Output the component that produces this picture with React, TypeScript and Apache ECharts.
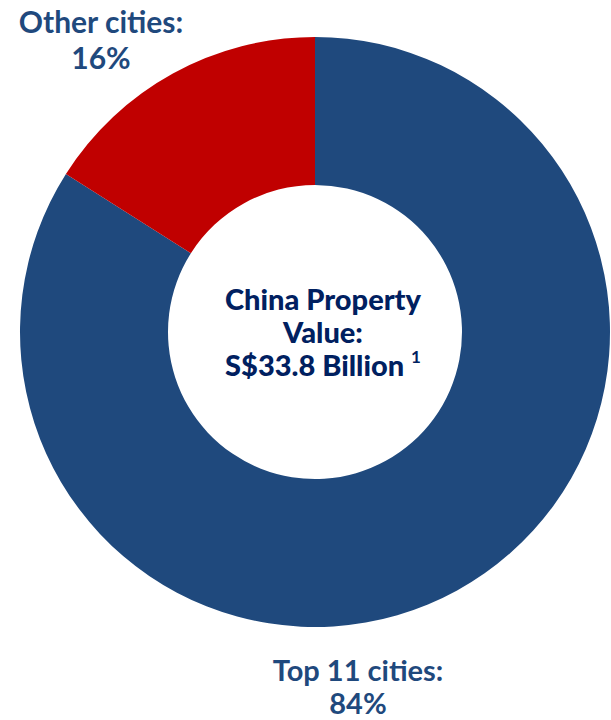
import React, { useEffect, useRef } from "react";
import * as echarts from "echarts";

const categories = ["Top 11 cities", "Other cities"];
const values = [84, 16];
const sliceColors = ["#1F497D", "#C00000"];
const centerLines = ["China Property", "Value:", "S$33.8 Billion"];
const footnote = "1";

export default function App() {
  const ref = useRef<HTMLDivElement>(null);
  useEffect(() => {
    const chart = echarts.init(ref.current!, null, { renderer: "svg" });
    const font = "Lato";
    chart.setOption({
      animation: false,
      backgroundColor: "#ffffff",
      graphic: [
        {
          type: "text",
          x: 323,
          y: 331,
          z: 10,
          style: {
            text: `{c|${centerLines[0]}}\n{c|${centerLines[1]}}\n{c|${centerLines[2]} }{s|${footnote}}`,
            align: "center",
            verticalAlign: "middle",
            rich: {
              c: { fontFamily: font, fontWeight: 900, fontSize: 29, fill: "#002060", color: "#002060", lineHeight: 33 },
              s: { fontFamily: font, fontWeight: "bold", fontSize: 17, fill: "#002060", color: "#002060", lineHeight: 33, verticalAlign: "top" },
            },
          },
        },
      ],
      series: [
        {
          type: "pie",
          center: [315, 332],
          radius: [147, 295],
          startAngle: 90,
          clockwise: true,
          silent: true,
          data: categories.map((name, i) => ({
            name,
            value: values[i],
            itemStyle: { color: sliceColors[i] },
            label: i === 0 ? { fontSize: 29, lineHeight: 33.5 } : { fontSize: 30, lineHeight: 36 },
          })),
          label: {
            show: true,
            position: "inside",
            overflow: "none",
            formatter: "{b}:\n{d}%",
            fontFamily: font,
            fontWeight: "bold",
            color: "#1F497D",
            align: "center",
          },
          labelLine: { show: false },
          labelLayout: (params: any) =>
            params.dataIndex === 0
              ? { x: 358, y: 686, align: "center", verticalAlign: "middle" }
              : { x: 101, y: 39, align: "center", verticalAlign: "middle" },
        },
      ],
    });
    return () => chart.dispose();
  }, []);
  return <div ref={ref} style={{ position: "absolute", left: 0, top: 0, width: 611, height: 720 }} />;
}
